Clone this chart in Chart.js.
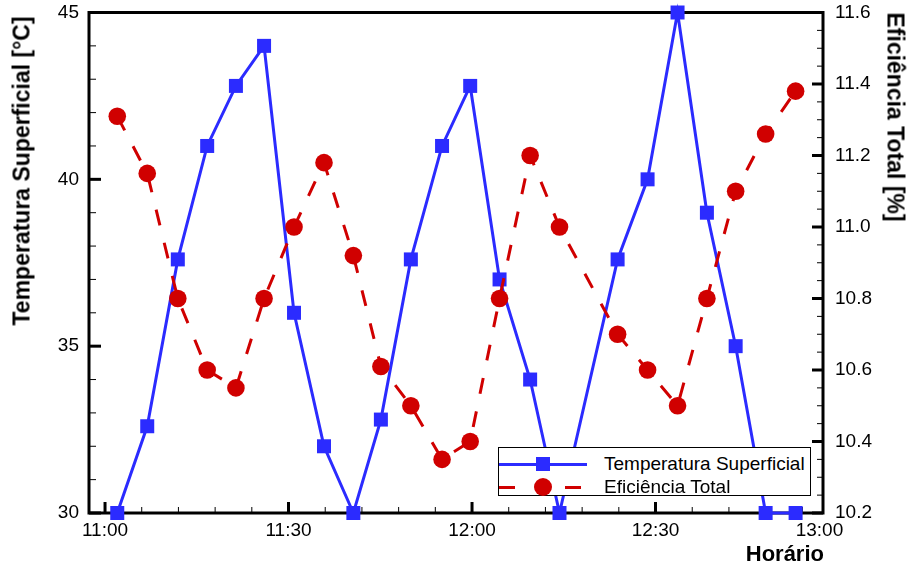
<!DOCTYPE html>
<html>
<head>
<meta charset="utf-8">
<script src="https://cdn.jsdelivr.net/npm/chart.js@4/dist/chart.umd.min.js"></script>
<style>
    html, body { margin: 0; padding: 0; background: #fff; }
    #wrap { position: relative; width: 912px; height: 569px; font-family: "Liberation Sans", Arial, sans-serif; color: #000; }
    #chart { position: absolute; left: 0; top: 0; }
    .title { position: absolute; font-weight: bold; font-size: 23px; line-height: 1; white-space: nowrap; }
    #title-left { left: 22px; top: 171px; transform: translate(-50%, -50%) rotate(-90deg); }
    #title-right { left: 895px; top: 117px; transform: translate(-50%, -50%) rotate(90deg); }
    #title-x { right: 88px; top: 543px; font-size: 22px; }
    #legend { position: absolute; left: 498px; top: 447px; width: 311px; height: 47px; background: #fff; border: 1px solid #000; font-size: 19px; }
    .row { position: absolute; left: 0; height: 22px; width: 100%; }
    .row span.txt { position: absolute; left: 105px; top: 0; line-height: 22px; white-space: nowrap; }
    .seg { position: absolute; height: 3px; top: 10px; }
    .mark { position: absolute; }
</style>
</head>
<body>
<div id="wrap">
    <canvas id="chart" width="912" height="569"></canvas>
    <div class="title" id="title-left">Temperatura Superficial [°C]</div>
    <div class="title" id="title-right">Eficiência Total [%]</div>
    <div class="title" id="title-x">Horário</div>
    <div id="legend">
        <div class="row" style="top:5px">
            <div class="seg" style="left:0;width:88px;background:#2b2bff"></div>
            <div class="mark" style="left:37px;top:4px;width:14px;height:14px;background:#2b2bff"></div>
            <span class="txt">Temperatura Superficial</span>
        </div>
        <div class="row" style="top:28px">
            <div class="seg" style="left:0;width:16px;background:#d00000"></div>
            <div class="seg" style="left:66px;width:16px;background:#d00000"></div>
            <div class="mark" style="left:35px;top:2px;width:18px;height:18px;border-radius:50%;background:#d00000"></div>
            <span class="txt">Eficiência Total</span>
        </div>
    </div>
</div>
<script>
// Temperatura superficial x eficiência — 11:00 às 13:00

// minutos depois das 11:00
const MINUTES = [2.0, 6.9, 11.9, 16.7, 21.4, 26.0, 30.9, 35.8, 40.6, 45.1, 50.0, 55.1,
                 59.7, 64.5, 69.5, 74.3, 83.8, 88.7, 93.6, 98.4, 103.1, 108.0, 112.9];

// °C
const TEMPERATURA = [30.0, 32.6, 37.6, 41.0, 42.8, 44.0, 36.0, 32.0, 30.0, 32.8, 37.6, 41.0,
                     42.8, 37.0, 34.0, 30.0, 37.6, 40.0, 45.0, 39.0, 35.0, 30.0, 30.0];

// %
const EFICIENCIA = [11.31, 11.15, 10.80, 10.60, 10.55, 10.80, 11.00, 11.18, 10.92, 10.61, 10.50, 10.35,
                    10.40, 10.80, 11.20, 11.00, 10.70, 10.60, 10.50, 10.80, 11.10, 11.26, 11.38];

const X_TICKS = [0, 30, 60, 90, 116.8];
const X_TICK_LABELS = ["11:00", "11:30", "12:00", "12:30", "13:00"];

const X_MIN = -2.62, X_MAX = 117.38;
const T_MIN = 30, T_MAX = 45;
const E_MIN = 10.2, E_MAX = 11.6;

const BLUE = "#2b2bff";
const RED = "#d00000";
const FONT = { family: "'Liberation Sans', Arial, sans-serif", size: 19 };

// ------------------------------------------------------------
// moldura + ticks para dentro
// ------------------------------------------------------------
const frameTicks = {
    id: "frameTicks",
    beforeDatasetsDraw(chart) {
        const { ctx, chartArea: a, scales } = chart;
        ctx.save();
        ctx.strokeStyle = "#000";
        const line = (x1, y1, x2, y2, w) => {
            ctx.lineWidth = w;
            ctx.beginPath();
            ctx.moveTo(x1, y1);
            ctx.lineTo(x2, y2);
            ctx.stroke();
        };
        // esquerda: menor 1, maior 5
        for (let i = 0; i <= (T_MAX - T_MIN); i++) {
            const y = scales.y.getPixelForValue(T_MIN + i);
            const major = i % 5 === 0;
            line(a.left, y, a.left + (major ? 12 : 7), y, major ? 3 : 1);
        }
        // direita: menor 0.05, maior 0.2
        const nE = Math.round((E_MAX - E_MIN) / 0.05);
        for (let i = 0; i <= nE; i++) {
            const y = scales.y1.getPixelForValue(E_MIN + i * 0.05);
            const major = i % 4 === 0;
            line(a.right, y, a.right - (major ? 11 : 6), y, major ? 3 : 1);
        }
        // baixo: menor 6 min, maior 30 min
        for (let i = 0; i * 6 <= X_MAX; i++) {
            const x = scales.x.getPixelForValue(i * 6);
            const major = i % 5 === 0;
            line(x, a.bottom, x, a.bottom - (major ? 11 : 6), major ? 3 : 1);
        }
        ctx.lineWidth = 3;
        ctx.strokeRect(a.left, a.top, a.right - a.left, a.bottom - a.top);
        ctx.restore();
    },
};

const noPad = (s) => { s.paddingTop = 0; s.paddingBottom = 0; s.paddingLeft = 0; s.paddingRight = 0; };

// ------------------------------------------------------------
// gráfico
// ------------------------------------------------------------
new Chart(document.getElementById("chart"), {
    type: "line",
    data: {
        datasets: [
            {
                label: "Eficiência Total",
                data: MINUTES.map((m, i) => ({ x: m, y: EFICIENCIA[i] })),
                yAxisID: "y1",
                order: 0,
                borderColor: RED,
                borderWidth: 3,
                borderDash: [16, 18],
                pointStyle: "circle",
                pointRadius: 8.8,
                pointBorderWidth: 0,
                pointBackgroundColor: RED,
                tension: 0,
                clip: false,
            },
            {
                label: "Temperatura Superficial",
                data: MINUTES.map((m, i) => ({ x: m, y: TEMPERATURA[i] })),
                yAxisID: "y",
                order: 1,
                borderColor: BLUE,
                borderWidth: 3,
                pointStyle: "rect",
                pointRadius: 9.9,
                pointBorderWidth: 0,
                pointBackgroundColor: BLUE,
                tension: 0,
                clip: false,
            },
        ],
    },
    options: {
        responsive: false,
        animation: false,
        events: [],
        layout: { padding: { top: 12.5, left: 0, right: 0, bottom: 0 } },
        plugins: { legend: { display: false }, tooltip: { enabled: false } },
        scales: {
            x: {
                type: "linear",
                min: X_MIN,
                max: X_MAX,
                grid: { display: false, drawTicks: false },
                border: { display: false },
                afterBuildTicks: (s) => { s.ticks = X_TICKS.map(v => ({ value: v })); },
                afterFit: (s) => { s.height = 56; noPad(s); },
                ticks: {
                    color: "#000",
                    font: FONT,
                    padding: 6,
                    maxRotation: 0,
                    autoSkip: false,
                    callback: (v) => X_TICK_LABELS[X_TICKS.indexOf(v)],
                },
            },
            y: {
                position: "left",
                min: T_MIN,
                max: T_MAX,
                grid: { display: false, drawTicks: false },
                border: { display: false },
                afterFit: (s) => { s.width = 89; noPad(s); },
                ticks: { color: "#000", font: FONT, padding: 10, stepSize: 5 },
            },
            y1: {
                position: "right",
                min: E_MIN,
                max: E_MAX,
                grid: { display: false, drawTicks: false },
                border: { display: false },
                afterFit: (s) => { s.width = 89; noPad(s); },
                ticks: {
                    color: "#000",
                    font: FONT,
                    padding: 12,
                    stepSize: 0.2,
                    callback: (v) => Number(v).toFixed(1),
                },
            },
        },
    },
    plugins: [frameTicks],
});
</script>
</body>
</html>
